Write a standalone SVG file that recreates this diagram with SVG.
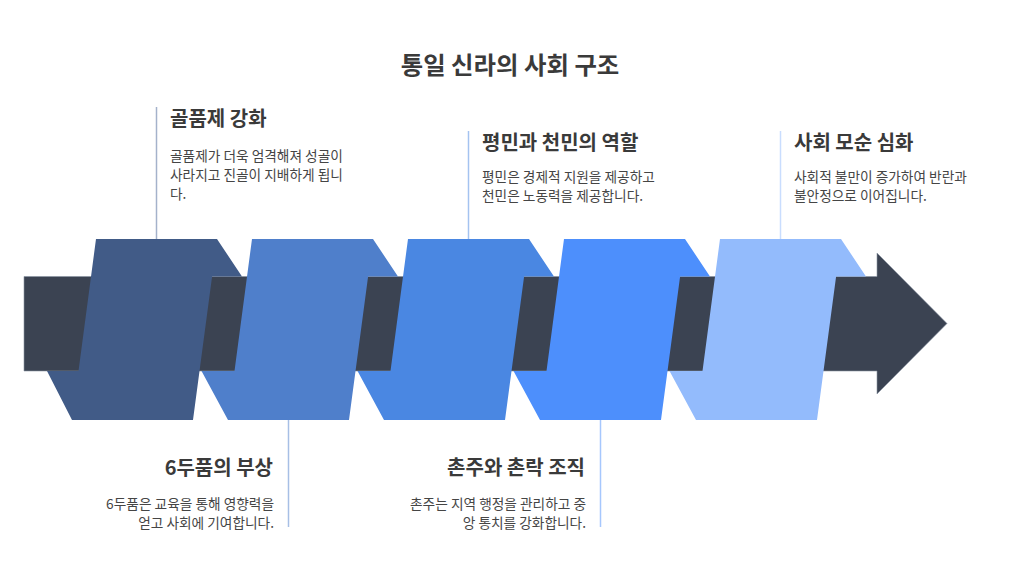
<svg xmlns="http://www.w3.org/2000/svg" width="1020" height="576" viewBox="0 0 1020 576">
<style>
.title{font-family:"Noto Sans CJK KR","Noto Sans",sans-serif;font-weight:700;font-size:24.4px;fill:#3a3a3a}
.h{font-family:"Noto Sans CJK KR","Noto Sans",sans-serif;font-weight:700;font-size:20px;fill:#3a3a3a}
.d{font-family:"Noto Sans CJK KR","Noto Sans",sans-serif;font-size:13.7px;fill:#454545}
.end{text-anchor:end}
.band{fill:#3b4352;stroke:#8a93a3;stroke-width:0.6}
.ln{stroke-width:1.5;fill:none}
</style>
<rect width="1020" height="576" fill="#ffffff"/>
<text class="title" x="510" y="74" text-anchor="middle">통일 신라의 사회 구조</text>
<g id="band">
<polygon class="band" points="24,276.5 877,276.5 877,253 947,323.5 877,394 877,371 24,371"/>
</g>
<g id="connectors">
<line class="ln" x1="156.5" y1="107" x2="156.5" y2="239" stroke="#a4b2cb"/>
<line class="ln" x1="288.5" y1="420" x2="288.5" y2="527" stroke="#a7bfe5"/>
<line class="ln" x1="468.5" y1="131" x2="468.5" y2="239" stroke="#a4c3f0"/>
<line class="ln" x1="600.5" y1="420" x2="600.5" y2="527" stroke="#a6c7fd"/>
<line class="ln" x1="780.5" y1="131" x2="780.5" y2="239" stroke="#c9ddfe"/>
</g>
<g id="node1">
<polygon fill="#415b87" points="96,239 217,239 242,276.5 212.1,276.5 193,420 72,420 47,371 78.5,371"/>
<text class="h" x="170" y="126">골품제 강화</text>
<text class="d" x="170" y="161">골품제가 더욱 엄격해져 성골이</text>
<text class="d" x="170" y="180">사라지고 진골이 지배하게 됩니</text>
<text class="d" x="170" y="199">다.</text>
</g>
<g id="node2">
<polygon fill="#4f7fcb" points="252,239 373,239 398,276.5 368.1,276.5 349,420 228,420 201.5,371 234.5,371"/>
<text class="h end" x="273" y="475">6두품의 부상</text>
<text class="d end" x="274" y="509">6두품은 교육을 통해 영향력을</text>
<text class="d end" x="274" y="528">얻고 사회에 기여합니다.</text>
</g>
<g id="node3">
<polygon fill="#4a87e2" points="408,239 529,239 554,276.5 524.1,276.5 505,420 384,420 357.5,371 390.5,371"/>
<text class="h" x="482" y="150">평민과 천민의 역할</text>
<text class="d" x="482" y="182">평민은 경제적 지원을 제공하고</text>
<text class="d" x="482" y="201">천민은 노동력을 제공합니다.</text>
</g>
<g id="node4">
<polygon fill="#4d8ffc" points="564,239 685,239 710,276.5 680.1,276.5 661,420 540,420 513.5,371 546.5,371"/>
<text class="h end" x="585" y="475">촌주와 촌락 조직</text>
<text class="d end" x="586" y="509">촌주는 지역 행정을 관리하고 중</text>
<text class="d end" x="586" y="528">앙 통치를 강화합니다.</text>
</g>
<g id="node5">
<polygon fill="#93bbfc" points="720,239 841,239 866,276.5 836.1,276.5 817,420 696,420 669.5,371 702.5,371"/>
<text class="h" x="794" y="150">사회 모순 심화</text>
<text class="d" x="794" y="182">사회적 불만이 증가하여 반란과</text>
<text class="d" x="794" y="201">불안정으로 이어집니다.</text>
</g>
</svg>
